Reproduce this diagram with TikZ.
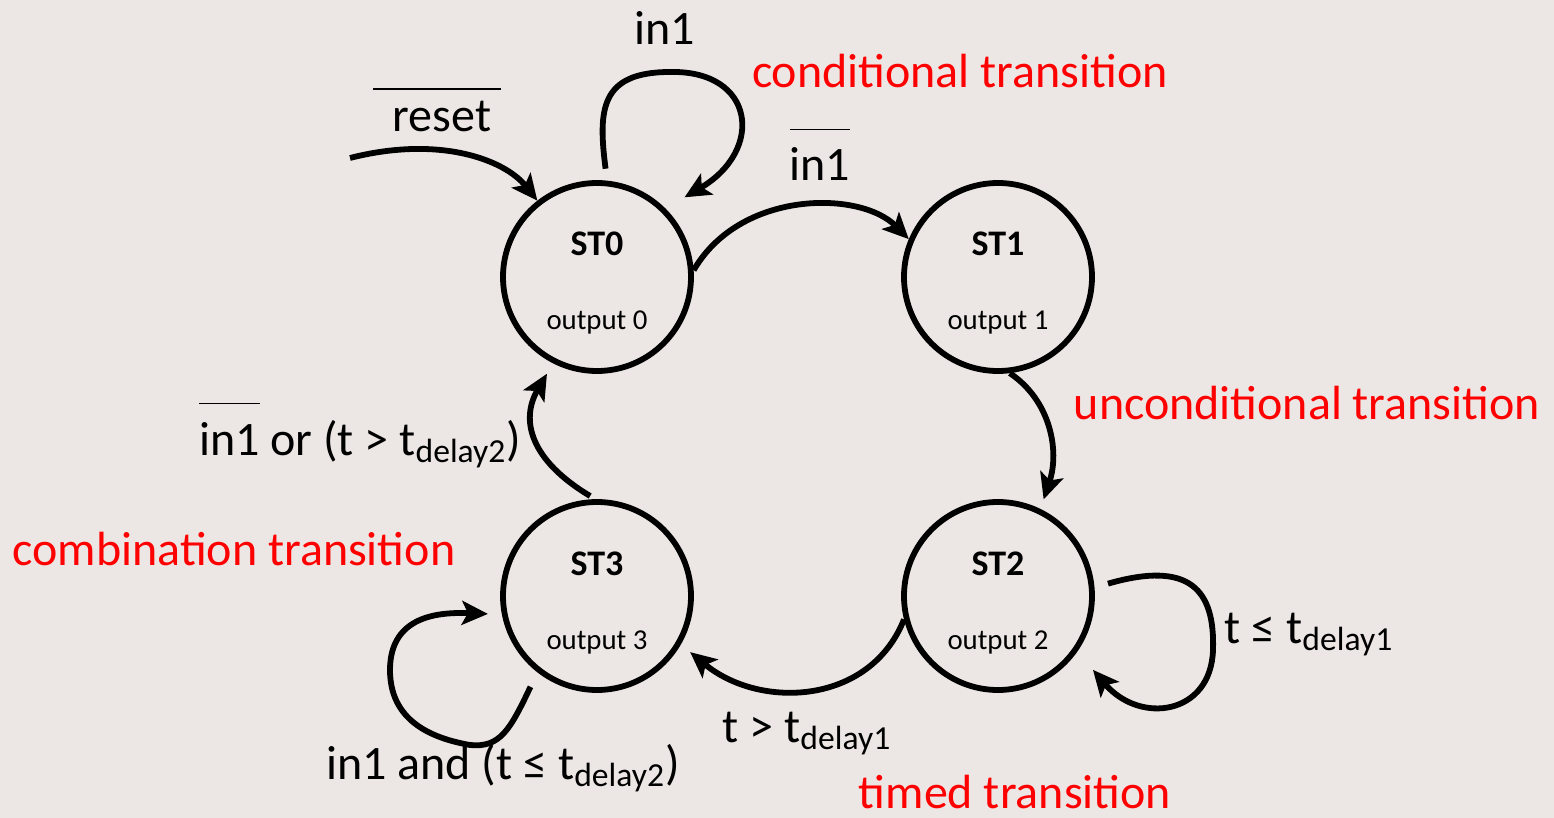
\documentclass[tikz,border=0pt]{standalone}
\usepackage{fontspec}
\setmainfont{Carlito}
\usetikzlibrary{arrows.meta}
\definecolor{bgtint}{RGB}{236,231,228}
\newcommand{\barred}[2][9pt]{\vbox{\hrule height 0.7pt\kern #1\hbox{#2}}}
\tikzset{
  state/.style={circle, draw, line width=2.9pt, minimum size=94pt, inner sep=0pt},
  trans/.style={line width=2.9pt, -{Stealth[length=13pt,width=12pt,inset=3pt]}},
  lbl/.style={anchor=base, inner sep=0pt, font=\fontsize{24}{28}\selectfont},
  note/.style={lbl, text=red},
  sname/.style={anchor=base, inner sep=0pt, font=\fontsize{18}{22}\selectfont\bfseries},
  sout/.style={anchor=base, inner sep=0pt, font=\fontsize{14.4}{17}\selectfont},
}

\begin{document}
\begin{tikzpicture}[x=0.5pt, y=-0.5pt]
	\fill[bgtint] (0,0) rectangle (1554,818);
	\useasboundingbox (0,0) rectangle (1554,818);
	\foreach \n/\x/\y in {0/597/277, 1/998/277, 2/998/596, 3/597/596}{
		\node[state] (s\n) at (\x,\y) {};
		\node[sname] (name\n) at (\x,\y-21) {ST\n};
		\node[sout] (out\n) at (\x,\y+53) {output \n};
	}
	\coordinate (rstart) at (350,158);
	\draw[trans] (rstart) .. controls (440,135) and (505,160) .. (s0.128);
	\draw[trans, shorten <=6pt, shorten >=11pt] (s0.84) .. controls (598,110) and (600,72) .. (670,72)
		.. controls (755,70) and (765,150) .. (s0.45);
	\draw[trans] (s0.4) .. controls (740,190) and (860,190) .. (s1.157);
	\draw[trans, shorten >=5pt] (s1.-83) .. controls (1050,400) and (1060,450) .. (s2.64);
	\draw[trans, shorten <=7pt, shorten >=12pt] (s2.5) .. controls (1190,560) and (1215,590) .. (1213,650)
		.. controls (1211,715) and (1140,725) .. (s2.-35);
	\draw[trans, shorten >=6pt] (s2.194) .. controls (870,705) and (760,710) .. (s3.-30);
	\draw[trans, shorten <=8pt, shorten >=7pt] (s3.232) .. controls (510,730) and (500,748) .. (470,745)
		.. controls (430,738) and (390,720) .. (390,670) .. controls (390,615) and (440,612) .. (s3.191);
	\draw[trans, shorten <=3pt, shorten >=6pt] (s3.91) .. controls (530,460) and (520,420) .. (s0.243);
	\node[lbl] (lreset) at (437,132) {\barred[6pt]{\kern10pt reset\kern5pt}};
	\node[lbl] (lloop0) at (665,45) {in1};
	\node[lbl] (lnot1) at (820,181) {\barred{in1}};
	\node[lbl] (lloop2) at (1309,643) {t ≤ t\textsubscript{delay1}};
	\node[lbl] (ltime1) at (807,742) {t > t\textsubscript{delay1}};
	\node[lbl] (lloop3) at (503,779) {in1 and (t ≤ t\textsubscript{delay2})};
	\node[lbl] (lback) at (360,455) {\barred{in1} or (t > t\textsubscript{delay2})};
	\node[note] (ncond) at (960,88) {conditional transition};
	\node[note] (nuncond) at (1307,420) {unconditional transition};
	\node[note] (ncomb) at (234,565) {combination transition};
	\node[note] (ntimed) at (1015,808) {timed transition};
\end{tikzpicture}
\end{document}
